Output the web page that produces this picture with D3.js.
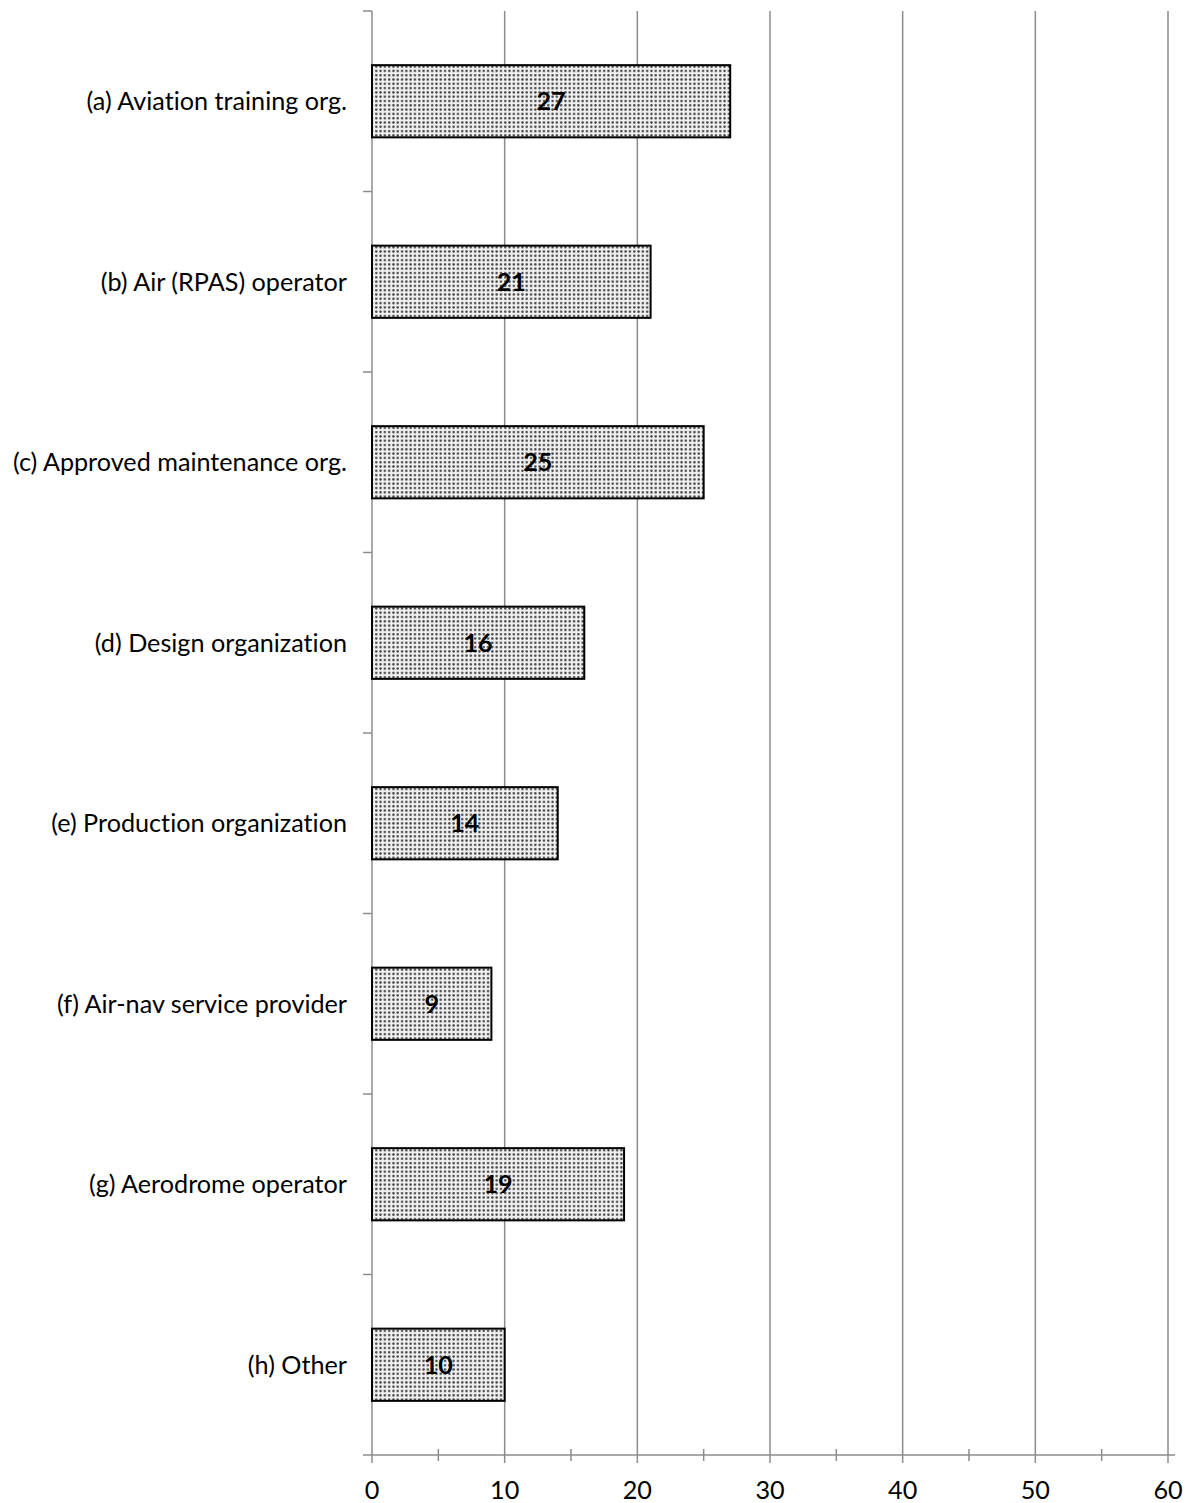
<!DOCTYPE html>
<html><head><meta charset="utf-8">
<script src="https://cdn.jsdelivr.net/npm/d3@7"></script>
<style>body{margin:0;background:#fff;}svg{display:block;}text{font-variant-ligatures:none;font-feature-settings:"liga" 0,"dlig" 0;}</style>
</head><body>
<script>
const categories = ["(a) Aviation training org.","(b) Air (RPAS) operator","(c) Approved maintenance org.","(d) Design organization","(e) Production organization","(f) Air-nav service provider","(g) Aerodrome operator","(h) Other"];
const values = [27,21,25,16,14,9,19,10];
const xTicks = [0,10,20,30,40,50,60];
const minorTicks = [5,15,25,35,45,55];

(function(){
const W=1189,H=1503;
const pl=372,pr=1168,pt=11,pb=1455;
const font="Lato, 'Open Sans', sans-serif";
const fs=25.2;
const svg=d3.select("body").append("svg").attr("width",W).attr("height",H);
const defs=svg.append("defs");
const pat=defs.append("pattern").attr("id","dots").attr("patternUnits","userSpaceOnUse").attr("width",4.3).attr("height",4.3);
pat.append("rect").attr("width",4.3).attr("height",4.3).attr("fill","#f0f0f0");
pat.append("circle").attr("cx",2.15).attr("cy",2.15).attr("r",1.25).attr("fill","#444");

const x=d3.scaleLinear().domain([0,60]).range([pl,pr]);
const y=d3.scaleBand().domain(categories).range([pt,pb]).paddingInner(0.6).paddingOuter(0.3);
const yb=d3.scaleBand().domain(categories).range([pt,pb]);

svg.append("g").selectAll("line").data(xTicks.slice(1)).join("line")
 .attr("x1",d=>x(d)).attr("x2",d=>x(d)).attr("y1",pt).attr("y2",pb)
 .attr("stroke","#8c8c8c").attr("stroke-width",1.5);

const ya=svg.append("g");
ya.append("line").attr("x1",pl).attr("x2",pl).attr("y1",pt).attr("y2",pb).attr("stroke","#8c8c8c").attr("stroke-width",1.5);
const bounds=categories.map(c=>yb(c));
ya.selectAll("line.t").data(bounds).join("line").attr("class","t")
 .attr("x1",pl-9).attr("x2",pl).attr("y1",d=>d).attr("y2",d=>d).attr("stroke","#8c8c8c").attr("stroke-width",1.5);
ya.selectAll("text").data(categories).join("text")
 .attr("x",pl-25).attr("y",d=>yb(d)+yb.bandwidth()/2).attr("dy","0.35em")
 .attr("text-anchor","end").attr("font-family",font).attr("font-size",fs).attr("fill","#000").text(d=>d);

const xa=svg.append("g");
xa.append("line").attr("x1",pl-9).attr("x2",pr+7).attr("y1",pb).attr("y2",pb).attr("stroke","#8c8c8c").attr("stroke-width",1.5);
xa.selectAll("line.M").data(xTicks).join("line").attr("class","M")
 .attr("x1",d=>x(d)).attr("x2",d=>x(d)).attr("y1",pb).attr("y2",pb+8).attr("stroke","#8c8c8c").attr("stroke-width",1.5);
xa.selectAll("line.m").data(minorTicks).join("line").attr("class","m")
 .attr("x1",d=>x(d)).attr("x2",d=>x(d)).attr("y1",pb-6).attr("y2",pb+6).attr("stroke","#8c8c8c").attr("stroke-width",1.5);
xa.selectAll("text").data(xTicks).join("text")
 .attr("x",d=>x(d)).attr("y",pb+35).attr("dy","0.35em").attr("text-anchor","middle")
 .attr("font-family",font).attr("font-size",fs).attr("fill","#000").text(d=>d);

const bars=svg.append("g");
bars.selectAll("rect").data(values).join("rect")
 .attr("x",x(0)).attr("y",(d,i)=>y(categories[i])).attr("width",d=>x(d)-x(0)).attr("height",y.bandwidth())
 .attr("fill","url(#dots)").attr("stroke","#000").attr("stroke-width",2);
bars.selectAll("text").data(values).join("text")
 .attr("x",d=>x(d/2)).attr("y",(d,i)=>y(categories[i])+y.bandwidth()/2).attr("dy","0.35em")
 .attr("text-anchor","middle").attr("font-family",font).attr("font-weight","bold").attr("font-size",fs).attr("fill","#000").text(d=>d);
})();
</script>
</body></html>
